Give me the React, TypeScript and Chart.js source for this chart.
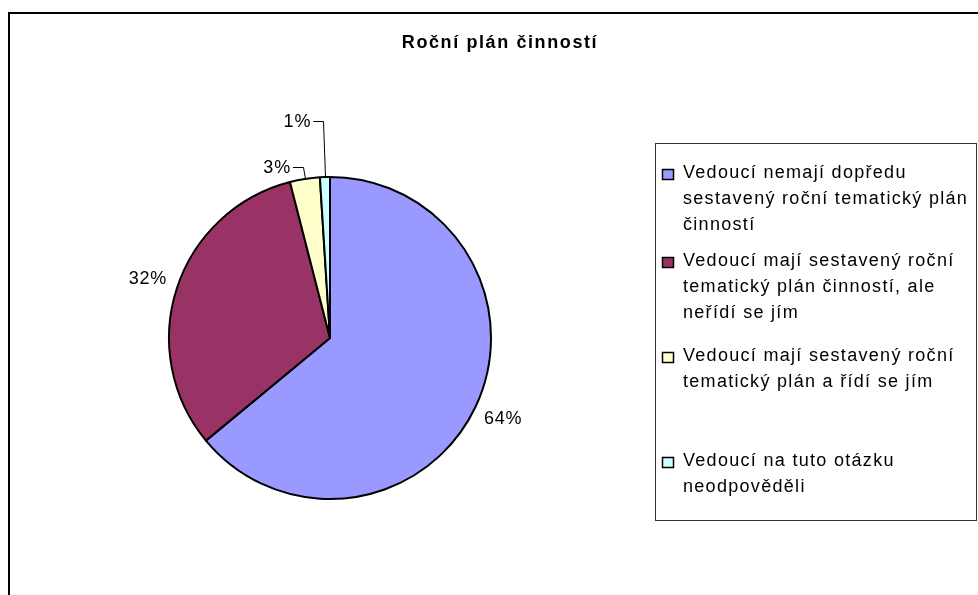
import React, { useEffect, useRef } from "react";
import { Chart, registerables } from "chart.js";

Chart.register(...registerables);

const title = "Roční plán činností";
const categories: string[][] = [
  ["Vedoucí nemají dopředu", "sestavený roční tematický plán", "činností"],
  ["Vedoucí mají sestavený roční", "tematický plán činností, ale", "neřídí se jím"],
  ["Vedoucí mají sestavený roční", "tematický plán a řídí se jím"],
  ["Vedoucí na tuto otázku", "neodpověděli"],
];
const values = [64, 32, 3, 1];
const colors = ["#9999FF", "#993366", "#FFFFCC", "#CCFFFF"];

const FONT = '"Liberation Sans", Arial, sans-serif';

const decorPlugin = {
  id: "decor",
  beforeDraw(chart: any) {
    const ctx = chart.ctx;
    ctx.save();
    ctx.fillStyle = "#fff";
    ctx.fillRect(0, 0, chart.width, chart.height);
    ctx.strokeStyle = "#000";
    ctx.lineWidth = 2;
    ctx.strokeRect(9, 13, 2000, 2000);
    ctx.restore();
  },
  afterDraw(chart: any) {
    const ctx = chart.ctx;
    ctx.save();
    // title
    ctx.fillStyle = "#000";
    ctx.font = `bold 18px ${FONT}`;
    (ctx as any).letterSpacing = "1.6px";
    ctx.textAlign = "center";
    ctx.textBaseline = "middle";
    ctx.fillText(title, 500, 43);

    // data labels
    const meta = chart.getDatasetMeta(0);
    const total = values.reduce((a, b) => a + b, 0);
    ctx.font = `18px ${FONT}`;
    (ctx as any).letterSpacing = "0.8px";
    let smallIdx = 0;
    meta.data.forEach((arc: any, i: number) => {
      const { x, y, startAngle, endAngle, outerRadius } = arc.getProps(
        ["x", "y", "startAngle", "endAngle", "outerRadius"],
        true
      );
      const mid = (startAngle + endAngle) / 2;
      const dx = Math.cos(mid);
      const dy = Math.sin(mid);
      const txt = Math.round((values[i] / total) * 100) + "%";
      const w = ctx.measureText(txt).width;
      const h = 14;
      if (values[i] / total >= 0.05) {
        const d = outerRadius + 10 + (w / 2) * Math.abs(dx) + (h / 2) * Math.abs(dy);
        ctx.textAlign = "center";
        ctx.textBaseline = "middle";
        ctx.fillText(txt, x + dx * d, y + dy * d);
      } else {
        const ext = smallIdx === 0 ? 12 : 56;
        smallIdx++;
        const px = x + dx * outerRadius;
        const py = y + dy * outerRadius;
        const ex = x + dx * (outerRadius + ext);
        const ey = y + dy * (outerRadius + ext);
        const lx = ex - 10;
        ctx.strokeStyle = "#000";
        ctx.lineWidth = 1;
        ctx.beginPath();
        ctx.moveTo(Math.round(px) + 0.5, py);
        ctx.lineTo(Math.round(ex) + 0.5, Math.round(ey) + 0.5);
        ctx.lineTo(lx, Math.round(ey) + 0.5);
        ctx.stroke();
        ctx.textAlign = "right";
        ctx.textBaseline = "middle";
        ctx.fillText(txt, lx - 2, ey + 1);
      }
    });

    // legend
    ctx.strokeStyle = "#333";
    ctx.lineWidth = 1;
    ctx.strokeRect(655.5, 143.5, 321, 377);
    ctx.font = `18px ${FONT}`;
    (ctx as any).letterSpacing = "1.3px";
    const capTops = [165, 253, 348, 453];
    const lineH = 26;
    ctx.textAlign = "left";
    ctx.textBaseline = "alphabetic";
    categories.forEach((lines, i) => {
      const base = capTops[i] + 13;
      ctx.fillStyle = colors[i];
      ctx.fillRect(662, capTops[i] + 4, 12, 11);
      ctx.strokeStyle = "#000";
      ctx.lineWidth = 1.5;
      ctx.strokeRect(662.5, capTops[i] + 4.5, 11, 10);
      ctx.fillStyle = "#000";
      lines.forEach((ln, k) => {
        ctx.fillText(ln, 683, base + k * lineH);
      });
    });
    ctx.restore();
  },
};

export default function App() {
  const ref = useRef<HTMLCanvasElement>(null);
  useEffect(() => {
    if (!ref.current) return;
    const chart = new Chart(ref.current, {
      type: "pie",
      data: {
        labels: categories.map((l) => l.join(" ")),
        datasets: [
          {
            data: values,
            backgroundColor: colors,
            borderColor: "#000",
            borderWidth: 2,
          },
        ],
      },
      options: {
        responsive: false,
        animation: false,
        layout: { padding: { left: 168, right: 486, top: 175, bottom: 94 } },
        plugins: {
          legend: { display: false },
          tooltip: { enabled: false },
          title: { display: false },
        },
      },
      plugins: [decorPlugin],
    });
    return () => chart.destroy();
  }, []);
  return (
    <div style={{ position: "absolute", left: 0, top: 0, width: 978, height: 595 }}>
      <canvas ref={ref} width={978} height={595} style={{ width: 978, height: 595 }} />
    </div>
  );
}
